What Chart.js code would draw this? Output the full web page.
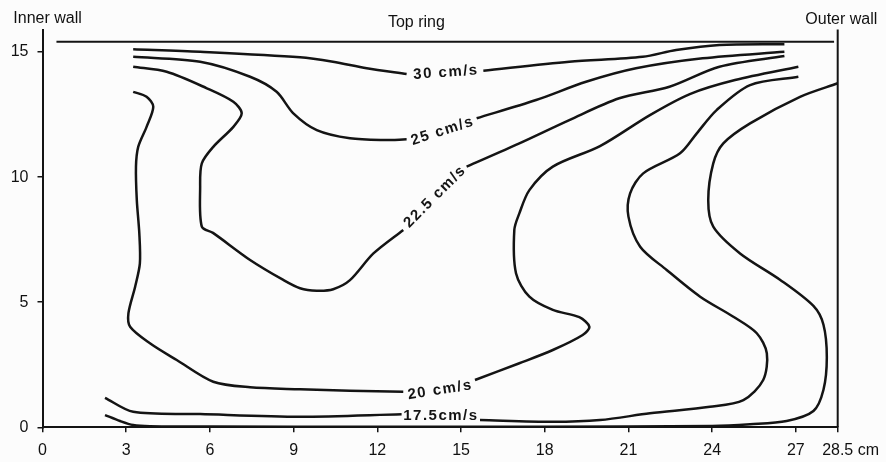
<!DOCTYPE html>
<html>
<head>
<meta charset="utf-8">
<script src="https://cdn.jsdelivr.net/npm/chart.js@4.4.1/dist/chart.umd.min.js"></script>
<style>
  html, body { margin: 0; padding: 0; background: #fcfcfc; }
  canvas { display: block; }
</style>
</head>
<body>
<canvas id="chart_velocityContours" width="886" height="462"></canvas>
<script>
// axis ticks (cm across the channel, cm of height)
const xTicks = [0, 3, 6, 9, 12, 15, 18, 21, 24, 27, 28.5];
const yTicks = [0, 5, 10, 15];

// isovel lines, [x, y] in cm; null = gap where the label sits
const contour30 = [[3.25,15.11],[5.65,15.01],[9.23,14.79],[10.41,14.61],[11.62,14.35],[13.05,14.12],null,
  [15.8,14.25],[18.88,14.61],[21.51,14.81],[22.71,15.08],[24.26,15.28],[26.59,15.31]];
const contour25 = [[3.25,14.81],[5.65,14.61],[7.44,14.01],[8.39,13.41],[8.99,12.55],[9.83,11.88],[11.02,11.55],
  [12.22,11.48],[13.05,11.51],null,[15.56,12.35],[17.69,13.08],[19.48,13.81],[21.27,14.35],[23.66,14.75],[26.59,15.01]];
const contour225 = [[3.25,14.41],[4.45,14.21],[5.89,13.55],[6.84,13.01],[7.14,12.55],[6.84,12.01],[6.12,11.21],
  [5.71,10.55],[5.65,9.62],[5.71,8.02],[6.11,7.77],[7.44,6.69],[8.63,5.89],[9.23,5.56],[9.83,5.46],[10.42,5.52],
  [11.02,5.88],[11.86,6.95],[12.93,7.89],null,[15.2,10.42],[17.09,11.35],[18.88,12.28],[20.67,13.15],[22.47,13.61],
  [24.26,14.41],[26.59,14.84]];
const contour20 = [[3.25,13.41],[3.73,13.21],[3.97,12.81],[3.73,12.01],[3.43,11.21],[3.35,10.42],[3.38,9.08],
  [3.47,7.75],[3.49,6.55],[3.32,5.62],[3.08,4.56],[3.14,4.02],[3.85,3.36],[4.81,2.69],[6.12,1.82],[7.44,1.6],
  [9.23,1.52],[11.02,1.46],[12.93,1.42],null,[15.5,1.89],[17.09,2.56],[18.29,3.09],[19.36,3.69],[19.6,4.02],
  [19.24,4.4],[18.29,4.69],[17.45,5.22],[16.97,6.16],[16.91,7.89],[17.09,8.55],[17.45,9.48],[18.29,10.42],
  [19.98,11.24],[21.77,12.48],[23.2,13.32],[24.82,13.88],[27.09,14.41]];
const contour175 = [[2.24,1.18],[3.25,0.62],[5.65,0.53],[9.23,0.42],[12.87,0.52],null,[15.68,0.29],[18.29,0.22],
  [19.98,0.29],[21.77,0.56],[23.92,0.82],[25.12,1.09],[25.83,1.89],[25.96,2.96],[25.6,3.76],[24.76,4.42],
  [23.57,5.22],[22.37,6.29],[21.42,7.22],[21.0,8.42],[21.06,9.35],[21.53,10.15],[22.85,10.95],[23.45,11.75],
  [24.16,12.68],[25.36,13.68],[27.09,14.01]];
const contour15 = [[2.24,0.49],[2.78,0.25],[3.25,0.09],[3.85,0.04],[6,0.03],[12,0.02],[18,0.02],[24,0.05],
  [25.36,0.12],[26.67,0.25],[27.63,0.65],[27.99,1.5],[28.11,2.8],[27.99,4.1],[27.63,4.85],[26.43,5.9],[25.0,6.95],
  [24.04,8.02],[23.86,9.08],[24.04,10.55],[24.4,11.35],[25.36,12.15],[27.15,13.21],[28.5,13.75]];

// walls
const topRing = [[0.5,15.41],[28.37,15.41]];
const outerWall = [[28.5,0],[28.5,15.9]];

// contour labels
const labelText = ['30 cm/s', '25 cm/s', '22.5 cm/s', '20 cm/s', '17.5cm/s'];
const labelX = [14.46, 14.34, 14.07, 14.25, 14.28];
const labelY = [14.18, 11.84, 9.22, 1.49, 0.45];
const labelAngle = [-4, -18, -45, -9, 0];

const FONT = '"Liberation Sans", Arial, Helvetica, sans-serif';
const INK = '#141414';

function pts(list) {
  let prev = 0;
  return list.map(p => {
    if (p === null) return { x: prev, y: null };
    prev = p[0];
    return { x: p[0], y: p[1] };
  });
}

function line(data, width) {
  return {
    data: pts(data),
    showLine: true,
    borderColor: INK,
    borderWidth: width,
    pointRadius: 0,
    tension: 0.3,
    spanGaps: false,
    clip: false
  };
}

const chart_velocityContours = new Chart(document.getElementById('chart_velocityContours'), {
  type: 'scatter',
  data: {
    datasets: [
      line(contour30, 2.5),
      line(contour25, 2.5),
      line(contour225, 2.5),
      line(contour20, 2.5),
      line(contour175, 2.5),
      line(contour15, 2.5),
      line(topRing, 2),
      line(outerWall, 2)
    ]
  },
  options: {
    animation: false,
    responsive: false,
    maintainAspectRatio: false,
    layout: {
      padding: { left: 0, right: 48.3, top: 29.5, bottom: 0 }
    },
    plugins: {
      legend: { display: false },
      tooltip: { enabled: false }
    },
    scales: {
      x: {
        type: 'linear',
        min: 0,
        max: 28.5,
        afterBuildTicks: s => { s.ticks = xTicks.map(v => ({ value: v })); },
        afterFit: s => { s.height = 34.7; },
        ticks: {
          autoSkip: false,
          maxRotation: 0,
          padding: 9,
          color: '#111',
          font: { family: FONT, size: 16 },
          callback: v => String(v)
        },
        grid: { drawOnChartArea: false, tickLength: 5, color: INK, lineWidth: 1.5 },
        border: { display: true, color: INK, width: 2 }
      },
      y: {
        type: 'linear',
        min: 0,
        max: 15.9,
        afterBuildTicks: s => { s.ticks = yTicks.map(v => ({ value: v })); },
        afterFit: s => { s.width = 42.5; },
        ticks: {
          padding: 9,
          color: '#111',
          font: { family: FONT, size: 16 }
        },
        grid: { drawOnChartArea: false, tickLength: 5, color: INK, lineWidth: 1.5 },
        border: { display: true, color: INK, width: 2 }
      }
    }
  },
  plugins: [{
    id: 'paperBackground',
    beforeDraw: (chart) => {
      const ctx = chart.ctx;
      ctx.save();
      ctx.fillStyle = '#fcfcfc';
      ctx.fillRect(0, 0, chart.width, chart.height);
      ctx.restore();
    }
  }, {
    id: 'contourLabels',
    afterDatasetsDraw: (chart) => {
      const ctx = chart.ctx;
      const xs = chart.scales.x, ys = chart.scales.y;
      ctx.save();
      ctx.fillStyle = INK;
      ctx.font = 'bold 15px ' + FONT;
      if ('letterSpacing' in ctx) ctx.letterSpacing = '1.5px';
      ctx.textAlign = 'center';
      ctx.textBaseline = 'middle';
      labelText.forEach((t, i) => {
        ctx.save();
        ctx.translate(xs.getPixelForValue(labelX[i]), ys.getPixelForValue(labelY[i]));
        ctx.rotate(labelAngle[i] * Math.PI / 180);
        ctx.fillText(t, 0, 0);
        ctx.restore();
      });
      ctx.restore();
    }
  }, {
    id: 'wallNames',
    afterDraw: (chart) => {
      const ctx = chart.ctx;
      const area = chart.chartArea;
      const xs = chart.scales.x;
      ctx.save();
      ctx.fillStyle = '#111';
      ctx.font = '16px ' + FONT;
      ctx.textBaseline = 'alphabetic';
      ctx.textAlign = 'left';
      ctx.fillText('Inner wall', area.left - 29.2, 23.3);
      ctx.fillText('Outer wall', area.right - 32.4, 24);
      ctx.textAlign = 'center';
      ctx.fillText('Top ring', xs.getPixelForValue(13.4), 26.7);
      // unit after the last tick label
      ctx.textAlign = 'left';
      ctx.textBaseline = 'middle';
      const lastX = xs.getPixelForValue(xTicks[xTicks.length - 1]);
      const off = ctx.measureText('28.5').width / 2 + ctx.measureText(' ').width;
      ctx.fillText('cm', lastX + off, area.bottom + 5 + 9 + 9.6);
      ctx.restore();
    }
  }]
});
</script>
</body>
</html>
